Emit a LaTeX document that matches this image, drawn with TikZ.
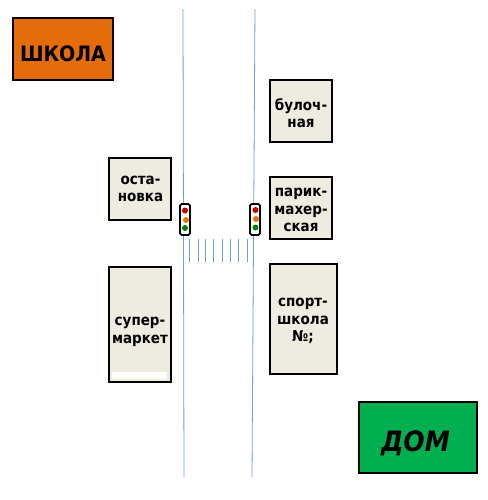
\documentclass[tikz,border=0pt]{standalone}
\usepackage{xcolor}
\usepackage{fontspec}
\setmainfont{DejaVu Sans Condensed}
\definecolor{beigefill}{RGB}{238,236,225}
\definecolor{schoolfill}{RGB}{228,108,10}
\definecolor{homefill}{RGB}{0,176,80}
\definecolor{roadblue}{RGB}{110,160,215}
\tikzset{
  placebox/.style={fill=beigefill,draw=black,line width=0.7pt},
  placetext/.style={inner sep=0pt,outer sep=0pt,align=center,text=black,font=\bfseries\fontsize{7.5}{8.8}\selectfont},
  lightbox/.style={fill=white,draw=black,line width=0.9pt,rounded corners=0.8pt},
  stripe/.style={draw=roadblue,line width=0.5pt},
}
\begin{document}
\begin{tikzpicture}[x=.5pt,y=-.5pt]
\path[use as bounding box] (0,0) rectangle (488,500);
\path[fill=white,draw=none] (0,0) rectangle (488,500);
\draw[draw=roadblue,line width=0.4pt] (183,9) -- (184,477);
\draw[draw=roadblue,line width=0.4pt] (255,9) -- (252,477);
\path[fill=schoolfill,draw=black,line width=0.8pt] (13,18) rectangle (113,80);
\node[placetext,font=\bfseries\fontsize{10.6}{12}\selectfont] (shkola) at (63,54) {ШКОЛА};
\path[placebox] (109,158) rectangle (171,220);
\node[placetext] (ostanovka) at (140.5,189) {оста-\\новка};
\path[placebox] (109,267) rectangle (171,382);
\path[fill=white,draw=none,rounded corners=1pt] (112,372) rectangle (167,379);
\node[placetext] (supermarket) at (140,332) {супер-\\маркет};
\path[placebox] (270,80) rectangle (332,142);
\node[placetext] (bulochnaya) at (301,113) {булоч-\\ная};
\path[placebox] (270,177) rectangle (332,239);
\node[placetext] (parikmakher) at (301,210) {парик-\\махер-\\ская};
\path[placebox] (270,264) rectangle (337,374);
\node[placetext] (sportshkola) at (303,321) {спорт-\\школа\\№;};
\path[fill=homefill,draw=black,line width=0.8pt] (359,402) rectangle (477,473);
\node[placetext,font=\bfseries\itshape\fontsize{14}{15}\selectfont] (dom) at (415.5,443) {ДОМ};
% left light
\path[lightbox] (180,204) rectangle (190,235);
\path[fill=red!80!black] (185,210.5) circle (3);
\path[fill=orange!90!black] (186,220) circle (3);
\path[fill=green!50!black] (185,228) circle (3);
% right light
\path[lightbox] (250,204) rectangle (260,235);
\path[fill=red!80!black] (255.5,210) circle (3);
\path[fill=orange!90!black] (256,219) circle (3);
\path[fill=green!50!black] (255.5,227.5) circle (3);
% crossing
\foreach \xs in {189.3,198.3,205.7,213.3,222.3,230.7,238.3,247.3}
  \draw[stripe] (\xs,239) -- (\xs,262);
\end{tikzpicture}
\end{document}
